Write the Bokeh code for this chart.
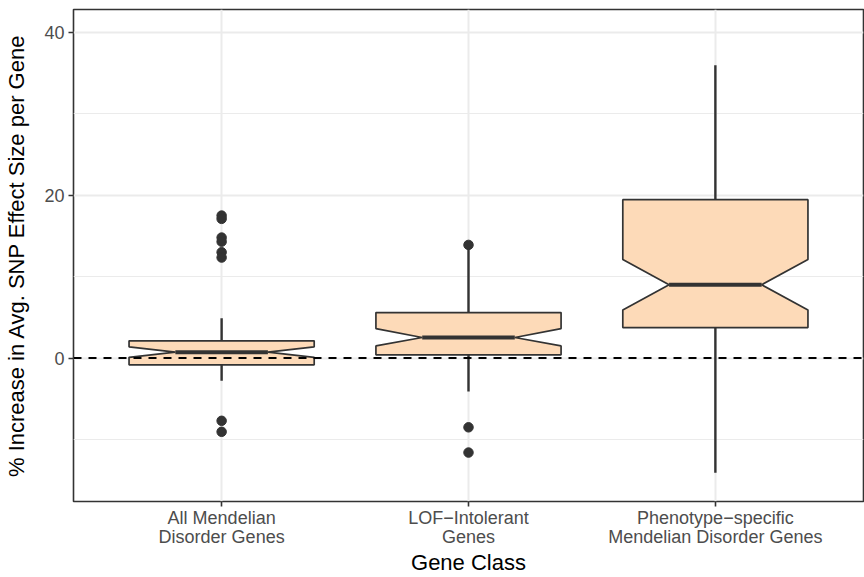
from bokeh.plotting import figure
from bokeh.models import Range1d, FixedTicker, Span
from bokeh.embed import file_html
from bokeh.resources import INLINE

# ---- data ----
categories = ["All Mendelian\nDisorder Genes",
              "LOF\u2212Intolerant\nGenes",
              "Phenotype\u2212specific\nMendelian Disorder Genes"]
positions = [1, 2, 3]
q1 = [-0.82, 0.40, 3.75]
median = [0.73, 2.53, 9.01]
q3 = [2.12, 5.59, 19.45]
notch_lo = [0.09, 1.50, 5.91]
notch_hi = [1.38, 3.63, 12.11]
whisk_lo = [-2.77, -4.10, -14.07]
whisk_hi = [4.90, 13.50, 35.96]
outlier_group = [1, 1, 1, 1, 1, 1, 1, 1, 2, 2, 2]
outlier_value = [17.5, 17.1, 14.8, 14.3, 13.0, 12.35, -7.7, -9.05, 13.9, -8.5, -11.6]
y_ticks = [0, 20, 40]
y_minor = [-10, 10, 30]
x_title = "Gene Class"
y_title = "% Increase in Avg. SNP Effect Size per Gene"

FONT = "Liberation Sans"
DARK = "#333333"
GRID = "#EBEBEB"
FILL = "#FDDAB8"

Y_LO, Y_HI = -17.61, 42.81
p = figure(width=864, height=577, output_backend="svg", toolbar_location=None,
           x_range=Range1d(0.4, 3.6), y_range=Range1d(Y_LO, Y_HI),
           min_border_left=73, min_border_right=1, min_border_top=9, min_border_bottom=74)
p.background_fill_color = "white"
p.border_fill_color = "white"
p.outline_line_color = DARK
p.outline_line_width = 1.6

# grids
p.xgrid.ticker = FixedTicker(ticks=positions)
p.xgrid.grid_line_color = GRID
p.xgrid.grid_line_width = 2
p.ygrid.ticker = FixedTicker(ticks=y_ticks, minor_ticks=y_minor)
p.ygrid.grid_line_color = GRID
p.ygrid.grid_line_width = 2
p.ygrid.minor_grid_line_color = GRID
p.ygrid.minor_grid_line_width = 1.2

# axes
for ax in (p.xaxis[0], p.yaxis[0]):
    ax.axis_line_color = None
    ax.major_tick_line_color = DARK
    ax.major_tick_line_width = 1.6
    ax.major_tick_out = 5
    ax.major_tick_in = 0
    ax.minor_tick_line_color = None
    ax.major_label_text_font = FONT
    ax.major_label_text_font_size = "18px"
    ax.major_label_text_color = "#4D4D4D"
    ax.major_label_text_line_height = 0.95
    ax.axis_label_text_font = FONT
    ax.axis_label_text_font_size = "22px"
    ax.axis_label_text_font_style = "normal"
    ax.axis_label_text_color = "black"
    ax.axis_label_text_line_height = 0.9

p.xaxis.ticker = FixedTicker(ticks=positions)
p.xaxis.major_label_overrides = {pos: lab for pos, lab in zip(positions, categories)}
p.xaxis.axis_label = x_title
p.xaxis.major_label_standoff = 1
p.xaxis.axis_label_standoff = 0

p.yaxis.ticker = FixedTicker(ticks=y_ticks)
p.yaxis.axis_label = y_title
p.yaxis.major_label_standoff = 4
p.yaxis.axis_label_standoff = 12

# outliers
p.scatter(outlier_group, outlier_value, size=9.5, color=DARK, line_color=DARK)

# whiskers
p.segment(x0=positions, y0=q3, x1=positions, y1=whisk_hi, line_color=DARK, line_width=2.4)
p.segment(x0=positions, y0=q1, x1=positions, y1=whisk_lo, line_color=DARK, line_width=2.4)

# notched boxes
hw = 0.375
xs, ys = [], []
for c, a, nl, m, nh, b in zip(positions, q1, notch_lo, median, notch_hi, q3):
    xs.append([c - hw, c - hw, c - hw / 2, c - hw, c - hw, c + hw, c + hw, c + hw / 2, c + hw, c + hw])
    ys.append([a, nl, m, nh, b, b, nh, m, nl, a])
p.patches(xs, ys, fill_color=FILL, line_color=DARK, line_width=1.7)

# medians
p.segment(x0=[c - hw / 2 for c in positions], y0=median,
          x1=[c + hw / 2 for c in positions], y1=median,
          line_color=DARK, line_width=4)

# reference line at zero
p.add_layout(Span(location=0, dimension="width", line_color="black",
                  line_width=2, line_dash="8 7"))

open("out.html", "w").write(file_html(p, INLINE))
